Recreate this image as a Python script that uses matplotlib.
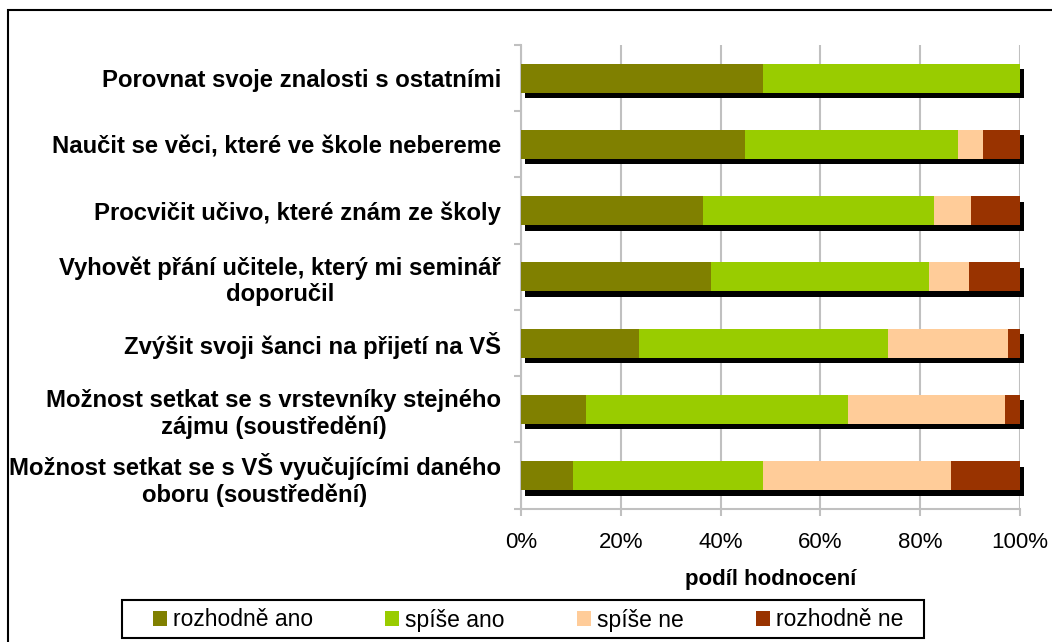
import numpy as np
import matplotlib
matplotlib.use("Agg")
import matplotlib.pyplot as plt
from matplotlib.patches import Rectangle
from matplotlib.transforms import offset_copy
from matplotlib.ticker import FuncFormatter


# data (percent of answers)
categories = [
    "Porovnat svoje znalosti s ostatními",
    "Naučit se věci, které ve škole nebereme",
    "Procvičit učivo, které znám ze školy",
    "Vyhovět přání učitele, který mi seminář\ndoporučil",
    "Zvýšit svoji šanci na přijetí na VŠ",
    "Možnost setkat se s vrstevníky stejného\nzájmu (soustředění)",
    "Možnost setkat se s VŠ vyučujícími daného\noboru (soustředění)",
]
rozhodne_ano = [48.5, 44.9, 36.5, 38.1, 23.6, 13.0, 10.5]
spise_ano = [51.5, 42.7, 46.3, 43.6, 50.0, 52.6, 38.0]
spise_ne = [0.0, 4.9, 7.3, 8.0, 23.9, 31.3, 37.6]
rozhodne_ne = [0.0, 7.5, 9.9, 10.3, 2.5, 3.1, 13.9]

series_names = ["rozhodně ano", "spíše ano", "spíše ne", "rozhodně ne"]
colors = ["#808000", "#99CC00", "#FFCC99", "#993300"]
x_ticks = [0, 20, 40, 60, 80, 100]

plt.rcParams["font.family"] = ["Liberation Sans", "DejaVu Sans"]
GRID = "#C0C0C0"

W, H = 1052, 642
fig = plt.figure(figsize=(W / 100, H / 100), dpi=100)
ax = fig.add_axes([521 / W, 1 - 508.7 / H, (1020 - 521) / W, (508.7 - 45) / H])

y = np.arange(len(categories))
bar_h = 0.44
series = [rozhodne_ano, spise_ano, spise_ne, rozhodne_ne]
totals = np.sum(series, axis=0)

# black "depth" behind every bar, shifted a few pixels right/down
shadow_tr = offset_copy(ax.transData, fig=fig, x=3.5, y=-5.5, units="dots")
ax.barh(y, totals, height=bar_h, color="black", transform=shadow_tr,
        zorder=2, clip_on=False, label="_nolegend_")

left = np.zeros(len(categories))
for vals, name, col in zip(series, series_names, colors):
    ax.barh(y, vals, left=left, height=bar_h, color=col, label=name, zorder=3)
    left += np.array(vals)

ax.set_xlim(0, 100)
ax.set_ylim(len(categories) - 0.5, -0.5)

ax.set_xticks(x_ticks)
ax.xaxis.set_major_formatter(FuncFormatter(lambda v, p: f"{v:.0f}%"))
ax.grid(axis="x", color=GRID, linewidth=1.5, zorder=0)
ax.set_axisbelow(True)

ax.set_yticks(y)
ax.set_yticklabels(categories, fontsize=17.2, fontweight="bold",
                   multialignment="center", linespacing=1.2)
ax.set_yticks(np.arange(-0.5, len(categories), 1), minor=True)

ax.tick_params(axis="y", which="major", length=0, pad=14.4)
ax.tick_params(axis="y", which="minor", length=5, width=1.5, color=GRID)
ax.tick_params(axis="x", length=5, width=1.5, color=GRID, labelsize=16,
               pad=12)

for side in ["top", "right"]:
    ax.spines[side].set_visible(False)
for side in ["left", "bottom"]:
    ax.spines[side].set_color(GRID)
    ax.spines[side].set_linewidth(1.5)

ax.set_xlabel("podíl hodnocení", fontsize=16, fontweight="bold", labelpad=11.5)

# legend under the chart; the box is drawn separately so it can be wider
handles, labels = ax.get_legend_handles_labels()
leg = fig.legend(handles, labels, loc="center left", ncol=4,
                 bbox_to_anchor=(153 / W, 1 - 620 / H),
                 fontsize=16.5, frameon=False, handlelength=0.62,
                 handleheight=0.62, handletextpad=0.25, columnspacing=3.15,
                 borderpad=0, borderaxespad=0)
fig.add_artist(Rectangle((122 / W, 1 - 638 / H), (924 - 122) / W, 38 / H,
                         transform=fig.transFigure, fill=False,
                         edgecolor="black", linewidth=1.5))

# outer chart border (cut off at right/bottom like the reference)
fig.add_artist(Rectangle((8 / W, -0.5), 2, 1.5 - 10 / H, transform=fig.transFigure,
                         fill=False, edgecolor="black", linewidth=1.5))

fig.savefig("out.png", dpi=100)
